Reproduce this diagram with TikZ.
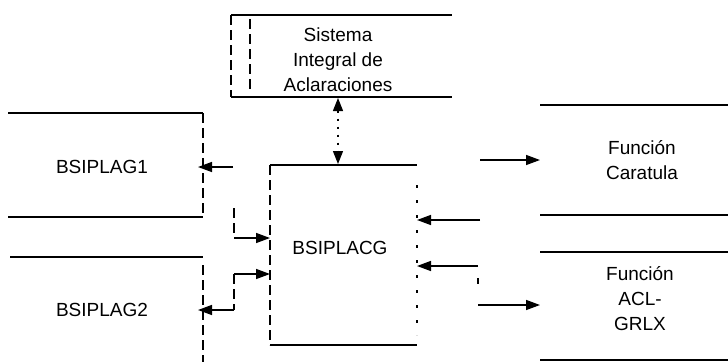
\documentclass[tikz,border=0pt]{standalone}
\usepackage{fontspec}
\setmainfont{Liberation Sans}
\usetikzlibrary{arrows.meta}
\begin{document}
\begin{tikzpicture}[x=1pt,y=-1pt,
  edge/.style={line width=1.4pt},
  side/.style={line width=1.1pt, dash pattern=on 10pt off 5pt},
  dotside/.style={line width=1.4pt, dash pattern=on 3pt off 12pt},
  arr/.style={line width=1.4pt, -{Triangle[length=14pt,width=10pt]}},
  dbl/.style={line width=1.3pt, dash pattern=on 2pt off 6pt, {Triangle[length=13pt,width=10pt]}-{Triangle[length=13pt,width=10pt]}},
  lbl/.style={font=\fontsize{19}{25}\selectfont, align=center, inner sep=0pt},
  area/.style={draw=none, rectangle, inner sep=0pt, outer sep=0pt}]
\useasboundingbox (0,0) rectangle (728,362);
\fill[white] (0,0) rectangle (728,362);

% box areas
\node[area, minimum width=221pt, minimum height=82pt]  (sia)   at (341.5,56)  {};
\node[area, minimum width=195pt, minimum height=104pt] (plag1) at (105.5,165) {};
\node[area, minimum width=193pt, minimum height=120pt] (plag2) at (106.5,317) {};
\node[area, minimum width=147pt, minimum height=180pt] (placg) at (343.5,255) {};
\node[area, minimum width=190pt, minimum height=110pt] (car)   at (635,160)   {};
\node[area, minimum width=190pt, minimum height=108pt] (acl)   at (635,306)   {};

% labels
\node[lbl] (tsia)   at (338,60)  {Sistema\\Integral de\\Aclaraciones};
\node[lbl] (tplag1) at (102,167) {BSIPLAG1};
\node[lbl] (tplag2) at (102,310) {BSIPLAG2};
\node[lbl] (tplacg) at (340,248) {BSIPLACG};
\node[lbl] (tcar)   at (642,160) {Función\\Caratula};
\node[lbl] (tacl)   at (640,299) {Función\\ACL-\\GRLX};

% box outlines
\draw[edge] (sia.north west) -- (sia.north east);
\draw[edge] (sia.south west) -- (sia.south east);
\draw[side] (sia.north west) -- (sia.south west);
\draw[side] ([xshift=19pt,yshift=-4pt]sia.north west) -- ([xshift=19pt,yshift=4pt]sia.south west);

\draw[edge] (plag1.north west) -- (plag1.north east);
\draw[edge] (plag1.south west) -- (plag1.south east);
\draw[side] (plag1.north east) -- (plag1.south east);

\draw[edge] (plag2.north west) -- (plag2.north east);
\draw[side] ([yshift=-8pt]plag2.north east) -- (plag2.east |- 0,362);

\draw[edge] (placg.north west) -- (placg.north east);
\draw[edge] (placg.south west) -- (placg.south east);
\draw[side] (placg.north west) -- (placg.south west);
\draw[dotside] ([yshift=-20pt]placg.north east) -- ([yshift=10pt]placg.south east);

\draw[edge] (car.north west) -- (car.north east);
\draw[edge] (car.south west) -- (car.south east);
\draw[edge] (acl.north west) -- (acl.north east);
\draw[edge] (acl.south west) -- (acl.south east);

% connectors
\coordinate (d1) at ([xshift=-3.5pt]sia.south);
\draw[dbl] ([yshift=-1pt]d1) -- ([yshift=1pt]d1 |- placg.north);

\coordinate (c2) at (233,167);
\draw[arr, shorten >=-5pt] (c2) -- (c2 -| plag1.east);

\coordinate (c3) at (234,208);
\draw[side] (c3) -- (c3 |- 0,238);
\draw[arr] (c3 |- 0,238) -- (placg.west |- 0,238);

\coordinate (c4) at (234,274);
\draw[arr] (c4) -- (placg.west |- c4);
\draw[side] (c4) -- (c4 |- 0,310);
\draw[arr, shorten >=-5pt] (c4 |- 0,310) -- (plag2.east |- 0,310);

\coordinate (c5) at (480,160);
\draw[arr] (c5) -- (c5 -| car.west);

\coordinate (c6) at (480,220);
\draw[arr] (c6) -- (c6 -| placg.east);

\coordinate (c7) at (478,266);
\draw[arr] (c7) -- (c7 -| placg.east);
\draw[line width=1.1pt] ([yshift=-12pt]c7) -- ([yshift=-18pt]c7);

\coordinate (c8) at (478,305);
\draw[arr] (c8) -- (c8 -| acl.west);
\end{tikzpicture}
\end{document}
